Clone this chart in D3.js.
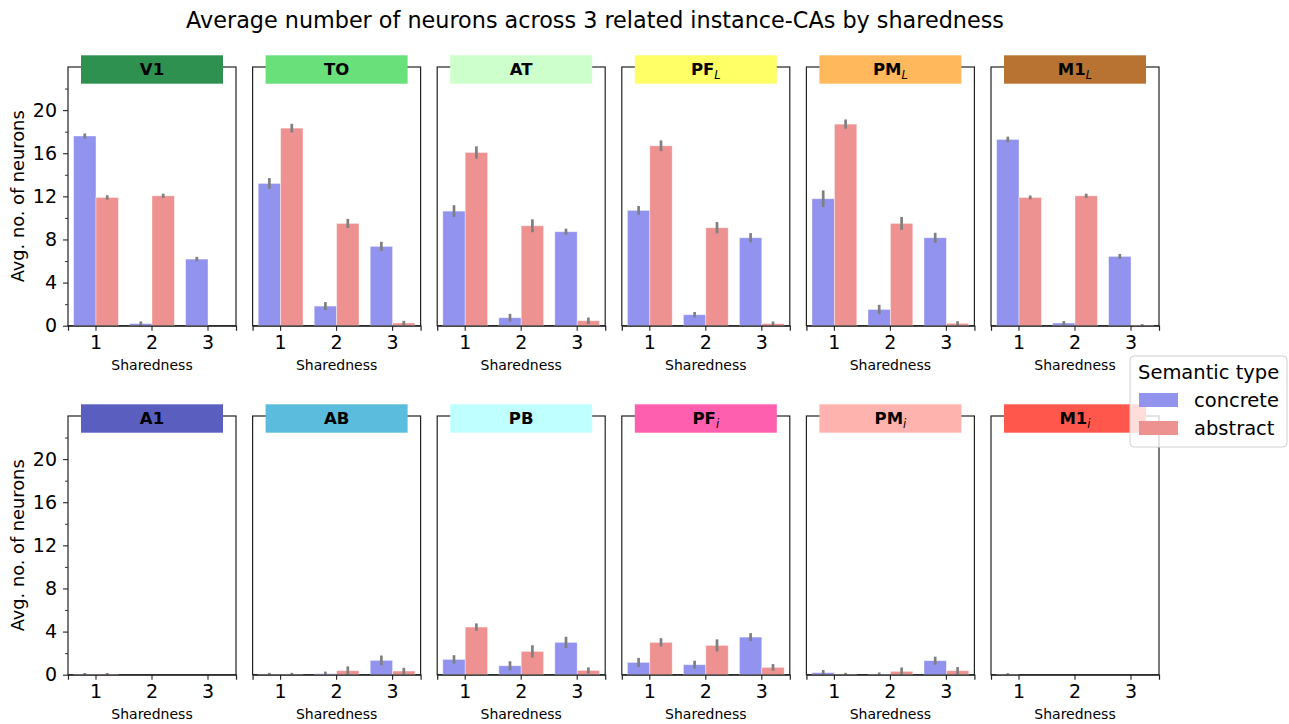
<!DOCTYPE html>
<html>
<head>
<meta charset="utf-8">
<script src="https://cdn.jsdelivr.net/npm/d3@7"></script>
<style>
  body { margin: 0; background: #fff; }
  text { font-family: "DejaVu Sans", sans-serif; fill: #000; }
</style>
</head>
<body>
<div id="viz"></div>
<script>

/* small multiples: avg. no. of neurons by sharedness, one panel per area */

// panel names (base text + italic subscript)
const areaNames = ["V1", "TO", "AT", "PF", "PM", "M1", "A1", "AB", "PB", "PF", "PM", "M1"];
const areaSubs  = ["", "", "", "L", "L", "L", "", "", "", "i", "i", "i"];
const areaColors = ["#2e9150", "#69e07a", "#ccffcc", "#ffff66", "#ffb85c", "#b87333",
                    "#5a5fbf", "#5bbcdd", "#c0ffff", "#ff5fae", "#ffb3ae", "#ff574b"];

const sharedness = ["1", "2", "3"];
const semanticTypes = ["concrete", "abstract"];
const typeColors = ["#9193ee", "#ee9191"];

const yTicks = [0, 4, 8, 12, 16, 20];
const yMinorTicks = [2, 6, 10, 14, 18, 22];

// mean values per area, for sharedness 1,2,3
const concreteMeans = [
  [17.6, 0.2, 6.18], [13.2, 1.82, 7.36], [10.63, 0.74, 8.72], [10.7, 1.02, 8.16],
  [11.78, 1.51, 8.16], [17.28, 0.25, 6.43],
  [0.04, 0, 0], [0.02, 0.09, 1.33], [1.42, 0.83, 3.0], [1.14, 0.93, 3.49],
  [0.19, 0.03, 1.3], [0.02, 0, 0]
];
const abstractMeans = [
  [11.9, 12.05, 0], [18.33, 9.49, 0.25], [16.07, 9.27, 0.46], [16.69, 9.09, 0.19],
  [18.7, 9.49, 0.22], [11.9, 12.05, 0.05],
  [0.04, 0, 0], [0.02, 0.37, 0.34], [4.42, 2.16, 0.4], [3.0, 2.72, 0.68],
  [0.02, 0.31, 0.37], [0, 0, 0]
];
// half width of error bars
const concreteErr = [
  [0.23, 0.2, 0.2], [0.5, 0.37, 0.42], [0.55, 0.36, 0.28], [0.4, 0.25, 0.43],
  [0.77, 0.43, 0.46], [0.26, 0.18, 0.23],
  [0.12, 0, 0], [0.15, 0.2, 0.45], [0.39, 0.42, 0.52], [0.42, 0.37, 0.37],
  [0.25, 0.18, 0.37], [0.12, 0, 0]
];
const abstractErr = [
  [0.2, 0.2, 0], [0.4, 0.42, 0.2], [0.57, 0.6, 0.3], [0.5, 0.52, 0.2],
  [0.43, 0.6, 0.2], [0.18, 0.2, 0.1],
  [0.12, 0, 0], [0.15, 0.4, 0.3], [0.34, 0.57, 0.28], [0.39, 0.56, 0.31],
  [0.15, 0.36, 0.34], [0, 0, 0]
];


const W = 1289, H = 724;
const panelW = 168, panelH = 258.7;
const panelStep = 184.6;
const rowTops = [67, 416];
const left0 = 68;

const svg = d3.select("#viz").append("svg")
    .attr("width", W).attr("height", H);

// title
svg.append("text")
    .attr("x", 595).attr("y", 28)
    .attr("text-anchor", "middle")
    .style("font-size", "22.3px")
    .text("Average number of neurons across 3 related instance-CAs by sharedness");

// scales shared by all panels
const x = d3.scaleBand().domain(sharedness).range([0, panelW])
    .paddingInner(0.2).paddingOuter(0.1);
const xHue = d3.scaleBand().domain(semanticTypes).range([0, x.bandwidth()]);
const y = d3.scaleLinear().domain([0, 24]).range([panelH, 0]);
const xCenter = d => x(d) + x.bandwidth() / 2;

areaNames.forEach((name, i) => {

    let row = Math.floor(i / 6), col = i % 6;
    let g = svg.append("g")
        .attr("transform", `translate(${left0 + col * panelStep},${rowTops[row]})`);

    // frame
    g.append("rect")
        .attr("width", panelW).attr("height", panelH)
        .attr("fill", "none").attr("stroke", "#222").attr("stroke-width", 1.2);

    // bars + error bars
    let rows = [];
    sharedness.forEach((s, j) => {
        rows.push({ s: s, t: "concrete", v: concreteMeans[i][j], e: concreteErr[i][j] });
        rows.push({ s: s, t: "abstract", v: abstractMeans[i][j], e: abstractErr[i][j] });
    });

    g.selectAll("rect.bar").data(rows).enter().append("rect")
        .attr("class", "bar")
        .attr("x", d => x(d.s) + xHue(d.t))
        .attr("y", d => y(d.v))
        .attr("width", xHue.bandwidth())
        .attr("height", d => y(0) - y(d.v))
        .attr("fill", d => typeColors[semanticTypes.indexOf(d.t)])
        .attr("stroke", "#ffffff").attr("stroke-opacity", 0.5).attr("stroke-width", 0.8);

    g.selectAll("line.err").data(rows.filter(d => d.e > 0)).enter().append("line")
        .attr("class", "err")
        .attr("x1", d => x(d.s) + xHue(d.t) + xHue.bandwidth() / 2)
        .attr("x2", d => x(d.s) + xHue(d.t) + xHue.bandwidth() / 2)
        .attr("y1", d => Math.min(y(Math.max(d.v - d.e, 0)), panelH))
        .attr("y2", d => y(d.v + d.e))
        .attr("stroke", "#7f7f7f").attr("stroke-width", 2.7);

    // bottom axis
    let ax = g.append("g")
        .attr("transform", `translate(0,${panelH})`)
        .call(d3.axisBottom(x).tickSize(5).tickPadding(5));
    ax.select(".domain").attr("stroke", "#222").attr("stroke-width", 1.2);
    ax.selectAll(".tick line").attr("stroke", "#222").attr("stroke-width", 1.1)
        .attr("transform", null);
    ax.selectAll(".tick").attr("transform", d => `translate(${xCenter(d)},0)`);
    ax.selectAll(".tick text").style("font-size", "19px")
        .style("font-family", "DejaVu Sans").attr("fill", "#000");

    g.append("text")
        .attr("x", panelW / 2).attr("y", panelH + 44.5)
        .attr("text-anchor", "middle")
        .style("font-size", "14px")
        .text("Sharedness");

    // left axis only on first column
    if (col === 0) {
        let ay = g.append("g")
            .call(d3.axisLeft(y).tickValues(yTicks).tickSize(5).tickPadding(6));
        ay.select(".domain").remove();
        ay.selectAll(".tick line").attr("stroke", "#222").attr("stroke-width", 1.1);
        ay.selectAll(".tick text").style("font-size", "19px")
            .style("font-family", "DejaVu Sans").attr("fill", "#000");

        let am = g.append("g")
            .call(d3.axisLeft(y).tickValues(yMinorTicks).tickSize(3).tickFormat(""));
        am.select(".domain").remove();
        am.selectAll(".tick line").attr("stroke", "#222").attr("stroke-width", 0.9);

        g.append("text")
            .attr("transform", `translate(-44,${panelH / 2}) rotate(-90)`)
            .attr("text-anchor", "middle")
            .style("font-size", "17.8px")
            .text("Avg. no. of neurons");
    }

    // strip header
    g.append("rect")
        .attr("x", 13).attr("y", -11.7)
        .attr("width", 142).attr("height", 28.4)
        .attr("fill", areaColors[i]);

    let ht = g.append("text")
        .attr("x", panelW / 2).attr("y", 8.4)
        .attr("text-anchor", "middle")
        .style("font-size", "16.5px").style("font-weight", "bold");
    ht.append("tspan").text(name);
    if (areaSubs[i] !== "") {
        ht.append("tspan")
            .attr("dy", 4)
            .style("font-size", "11.5px").style("font-weight", "normal")
            .style("font-style", "italic")
            .text(areaSubs[i]);
    }
});

// legend
const lg = svg.append("g").attr("transform", "translate(1130,356)");
lg.append("rect")
    .attr("width", 157).attr("height", 91).attr("rx", 4)
    .attr("fill", "#fff").attr("fill-opacity", 0.8)
    .attr("stroke", "#d0d0d0").attr("stroke-width", 1);
lg.append("text")
    .attr("x", 8).attr("y", 23)
    .style("font-size", "19.5px")
    .text("Semantic type");
semanticTypes.forEach((t, k) => {
    lg.append("rect")
        .attr("x", 9).attr("y", 37 + k * 28)
        .attr("width", 39).attr("height", 14)
        .attr("fill", typeColors[k]);
    lg.append("text")
        .attr("x", 64).attr("y", 51 + k * 28)
        .style("font-size", "19.5px")
        .text(t);
});

</script>
</body>
</html>
